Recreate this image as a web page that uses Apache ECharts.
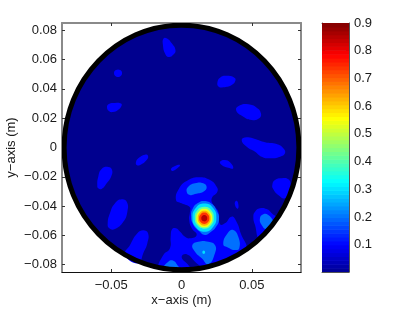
<!DOCTYPE html>
<html><head><meta charset="utf-8">
<style>html,body{margin:0;padding:0;background:#fff}#c{width:411px;height:310px}</style>
<script src="https://cdn.jsdelivr.net/npm/echarts@6/dist/echarts.min.js"></script>
</head><body><div id="c"></div>
<script>
const xTicks = [-0.05, 0, 0.05];
const yTicks = [-0.08, -0.06, -0.04, -0.02, 0, 0.02, 0.04, 0.06, 0.08];
const barTicks = [0.1, 0.2, 0.3, 0.4, 0.5, 0.6, 0.7, 0.8, 0.9];
const axisHalfRange = 0.085;
const barMin = 0.002, barMax = 0.9, barSteps = 64;
const xTitle = 'x\u2212axis (m)', yTitle = 'y\u2212axis (m)';
const jetStops = [[0,0,0,143],[0.111,0,0,255],[0.365,0,255,255],[0.619,255,255,0],[0.873,255,0,0],[1,128,0,0]];
const discRadiusMm = 83.5;

// contour regions: level, then closed outline in millimetres (x, y pairs)
const contourLevels = [
 0.1,0.1,0.1,0.1,0.1,0.1,0.1,0.1,0.1,0.1,0.1,0.1,0.1,0.1,0.1,0.1,
 0.001,
 0.2,0.2,0.2,0.2,0.2,0.3,
 0.2,0.3,0.42,0.54,0.63,0.74,0.85
];
const contourOutlines = [
 [[-12.8,74.4],[-10.3,74.4],[-7.1,71.3],[-4.3,66.6],[-5.7,63.5],[-9.2,61.8],[-11.7,64.2],[-13.2,70]],
 [[-48,50.9],[-46.6,52.9],[-43.7,52.9],[-42.3,50.9],[-43.7,48.5],[-46.6,48.5]],
 [[-53,27.7],[-51.6,29.7],[-47.3,30.4],[-43,30],[-42.7,28.3],[-45.2,25.6],[-48.8,24.2],[-51.6,24.9]],
 [[25.5,44.2],[27.4,47.7],[32.1,49],[37.6,47.7],[38.3,45.6],[35.7,42.7],[29.7,41.1],[26.5,41.5]],
 [[38.8,25.6],[41.6,28.8],[47.5,29.5],[53.5,27.2],[56.5,23.3],[55.3,19.9],[49.9,18.8],[44,21]],
 [[42.8,5.1],[46.4,7],[52.3,5.8],[59.4,3.6],[67.7,2.4],[72.4,-0.5],[73.6,-4],[70.1,-6.3],[62.9,-7.4],[57,-6.3],[52.3,-2.9],[46.4,0.5]],
 [[64.6,-25.6],[66.5,-22.2],[71.3,-21],[76,-21.7],[77.7,-25.6],[77.2,-30.2],[73.6,-34.7],[68.8,-32.4],[65.3,-28.5]],
 [[51.1,-47.2],[52.3,-43.8],[55.8,-41.5],[60.6,-42],[64.2,-44.9],[67.7,-49],[55.8,-62],[52.3,-52.9]],
 [[38.1,-37.2],[39.5,-36.5],[40.5,-39.3],[40.2,-41.6],[39.1,-41.3],[38.1,-39.3]],
 [[27.4,-9.7],[30.9,-8.5],[34.5,-10.1],[36.8,-14.2],[33.3,-13.8],[28.6,-11.9]],
 [[-7.5,-14.7],[-4.6,-12.6],[-1.1,-11.9],[-3,-14.2],[-6.3,-16]],
 [[-32.4,-10.1],[-30.7,-7.4],[-26,-4.9],[-23.8,-5.8],[-24.8,-8.5],[-29.5,-11.9],[-31.9,-11.9]],
 [[-59.9,-25.6],[-59.2,-19.9],[-56.8,-14.7],[-52.1,-13.3],[-49.4,-15.4],[-50.1,-19.9],[-53.2,-24.4],[-56.8,-28.3],[-59.2,-27.9]],
 [[-52.5,-51.8],[-50.9,-44.9],[-47.3,-38.1],[-42.5,-35.4],[-38.8,-37.4],[-38.5,-43.8],[-41.4,-50.7],[-47.3,-55.6],[-51.4,-55.2]],
 [[-40.2,-73.4],[-36.6,-66.6],[-31.4,-58.6],[-27.2,-56.5],[-23.8,-58.6],[-24.3,-65.4],[-27.2,-72.2],[-30.7,-79.1]],
 [[-16.5,-82.5],[-12.9,-73.4],[-8.2,-68.8],[-7.7,-60.9],[-6.6,-55.6],[-4,-55.2],[-1,-57.5],[2.5,-60.9],[6,-62],[10.8,-59.7],[7.3,-55.2],[5.5,-49.5],[6,-43.8],[6,-40.8],[0.1,-38.1],[-3.9,-35.8],[-1.6,-27.9],[3.7,-22.9],[11.9,-20.3],[20.3,-22.2],[25,-26.8],[25.5,-30.2],[21.5,-34.7],[22.6,-39.3],[26.2,-43.8],[27.4,-52.4],[30.9,-51.8],[35.7,-47.2],[39.3,-51.1],[42.1,-58.6],[45.9,-70],[34.5,-75.4],[23.8,-78.9],[13.2,-82.3],[-1.1,-83],[-11.7,-83]],
 [[0.1,-74.6],[3.7,-72.9],[9.6,-78],[14.4,-83],[8.4,-83],[3.7,-79.1]],
 [[55.8,-48.3],[58.2,-45.6],[61.7,-46.1],[65.3,-50],[66.5,-51.8],[60.6,-55.6],[57,-52.9]],
 [[3.7,-30.2],[4.8,-26.8],[9.6,-24.4],[15.5,-24.4],[17.9,-27.2],[15.5,-30.2],[9.6,-31.7],[6,-32.4]],
 [[7.7,-66.6],[11.9,-64.3],[19.1,-64.3],[23.8,-66.6],[23.8,-72.2],[19.1,-79.7],[14.4,-75.6],[9.6,-71.1]],
 [[29.7,-65.9],[33.3,-57.9],[36.8,-56.3],[40.4,-60.9],[41.1,-68.8],[38.1,-70],[33.3,-68.4]],
 [[-12.9,-83],[-9.4,-78],[-5.8,-77.3],[-3,-80.2],[-1.6,-83]],
 [[14.8,-71.5],[15.8,-70.3],[16.8,-71.5],[15.8,-72.7]],
 [[16,-36.5],[21.7,-38.6],[25.2,-43.4],[26.7,-48.8],[24.5,-54.3],[20.3,-58],[16.7,-59.7],[12.4,-57],[8.5,-52.9],[6.8,-46.8],[8.2,-41.3],[11.7,-37.9]],
 [[16.3,-38.3],[22.3,-41.1],[24.8,-47.8],[22.3,-54.5],[16.5,-57.6],[10.3,-54.5],[7.8,-47.8],[10.3,-41.1]],
 [[16.2,-40.5],[21,-42.7],[23,-48],[21,-53.3],[16.4,-55.5],[11.4,-53.3],[9.4,-48],[11.4,-42.7]],
 [[16.2,-41.9],[20.2,-43.8],[21.9,-48.2],[20.2,-52.6],[16.3,-54.5],[12.2,-52.6],[10.5,-48.2],[12.2,-43.8]],
 [[16.2,-43.2],[19.4,-44.7],[20.8,-48.3],[19.4,-51.9],[16.2,-53.4],[13,-51.9],[11.6,-48.3],[13,-44.7]],
 [[16.2,-44.4],[18.7,-45.5],[19.8,-48.3],[18.7,-51.1],[16.2,-52.2],[13.7,-51.1],[12.6,-48.3],[13.7,-45.5]],
 [[16.2,-46.1],[17.7,-46.7],[18.3,-48.3],[17.7,-49.9],[16.2,-50.5],[14.7,-49.9],[14.1,-48.3],[14.7,-46.7]]
];

function jet(v){
  const t = Math.max(0, Math.min(1, v / barMax));
  for (let i = 1; i < jetStops.length; i++) {
    const a = jetStops[i-1], b = jetStops[i];
    if (t <= b[0]) {
      const f = (t - a[0]) / (b[0] - a[0]);
      return 'rgb(' + [1,2,3].map(k => Math.round(a[k] + (b[k]-a[k]) * f)).join(',') + ')';
    }
  }
  return 'rgb(128,0,0)';
}

const font = {fontFamily:'Liberation Sans', fontSize:13, color:'#1a1a1a'};
const fmt = v => v === 0 ? '0' : String(v).replace('-', '\u2212');
const grey = {color:'#8a8a8a', width:2};
const tick = {show:true, inside:true, length:3, lineStyle:{color:'#333', width:1}};

const chart = echarts.init(document.getElementById('c'), null, {renderer:'canvas'});
chart.setOption({
  animation:false,
  backgroundColor:'#fff',
  grid:[
    {left:62, top:23, width:239, height:249, containLabel:false, outerBoundsMode:'none'},
    {left:322, top:23, width:27, height:249, containLabel:false, outerBoundsMode:'none'}
  ],
  xAxis:[
    {type:'value', gridIndex:0, min:-axisHalfRange, max:axisHalfRange, position:'bottom', splitLine:{show:false},
     axisLine:{show:true, onZero:false, lineStyle:{color:'#111', width:1}},
     axisTick:Object.assign({customValues:xTicks}, tick),
     axisLabel:Object.assign({customValues:xTicks, formatter:fmt, margin:7}, font),
     name:xTitle, nameLocation:'middle', nameGap:22, nameMoveOverlap:false, nameTextStyle:font},
    {type:'value', gridIndex:0, min:-axisHalfRange, max:axisHalfRange, position:'top', splitLine:{show:false},
     axisLine:{show:true, onZero:false, lineStyle:grey},
     axisTick:Object.assign({customValues:xTicks}, tick),
     axisLabel:{show:false}},
    {type:'value', gridIndex:1, min:0, max:1, position:'bottom', splitLine:{show:false},
     axisLine:{show:true, onZero:false, lineStyle:{color:'#555', width:1}}, axisTick:{show:false}, axisLabel:{show:false}},
    {type:'value', gridIndex:1, min:0, max:1, position:'top', splitLine:{show:false},
     axisLine:{show:true, onZero:false, lineStyle:{color:'#555', width:1}}, axisTick:{show:false}, axisLabel:{show:false}}
  ],
  yAxis:[
    {type:'value', gridIndex:0, min:-axisHalfRange, max:axisHalfRange, position:'left', splitLine:{show:false},
     axisLine:{show:true, onZero:false, lineStyle:grey},
     axisTick:Object.assign({customValues:yTicks}, tick),
     axisLabel:Object.assign({customValues:yTicks, formatter:fmt, margin:5}, font),
     name:yTitle, nameLocation:'middle', nameGap:44, nameMoveOverlap:false, nameTextStyle:font},
    {type:'value', gridIndex:0, min:-axisHalfRange, max:axisHalfRange, position:'right', splitLine:{show:false},
     axisLine:{show:true, onZero:false, lineStyle:grey},
     axisTick:Object.assign({customValues:yTicks}, tick),
     axisLabel:{show:false}},
    {type:'value', gridIndex:1, min:barMin, max:barMax, position:'right', splitLine:{show:false},
     axisLine:{show:true, onZero:false, lineStyle:{color:'#555', width:1}},
     axisTick:Object.assign({customValues:barTicks}, tick),
     axisLabel:Object.assign({customValues:barTicks, formatter:v => v.toFixed(1), margin:5}, font)},
    {type:'value', gridIndex:1, min:barMin, max:barMax, position:'left', splitLine:{show:false},
     axisLine:{show:true, onZero:false, lineStyle:{color:'#555', width:1}},
     axisTick:Object.assign({customValues:barTicks}, tick),
     axisLabel:{show:false}}
  ],
  series:[
    {
      type:'custom', xAxisIndex:0, yAxisIndex:0, clip:true, z:1, silent:true,
      data:[[0,0]],
      renderItem:(p, api) => {
        const c = api.coord([0,0]), r = discRadiusMm/1000;
        return {type:'ellipse', shape:{cx:c[0], cy:c[1], rx:api.size([r,0])[0], ry:api.size([0,r])[1]},
                style:{fill:jet(0), stroke:null}};
      }
    },
    {
      type:'custom', xAxisIndex:0, yAxisIndex:0, clip:true, z:2, silent:true,
      data:contourOutlines.map((o,i) => [o[0][0]/1000, o[0][1]/1000, i]),
      renderItem:(p, api) => {
        const i = api.value(2);
        return {type:'polygon',
          shape:{points:contourOutlines[i].map(q => api.coord([q[0]/1000, q[1]/1000])), smooth:0.5},
          style:{fill:jet(contourLevels[i]), stroke:null}};
      }
    },
    {
      type:'custom', xAxisIndex:0, yAxisIndex:0, clip:true, z:3, silent:true,
      data:[[0,0]],
      renderItem:(p, api) => {
        const c = api.coord([0,0]), r = discRadiusMm/1000;
        return {type:'ellipse', shape:{cx:c[0], cy:c[1], rx:api.size([r,0])[0], ry:api.size([0,r])[1]},
                style:{fill:null, stroke:'#000', lineWidth:5}};
      }
    },
    {
      type:'custom', xAxisIndex:2, yAxisIndex:2, clip:true, z:2, silent:true,
      data:Array.from({length:barSteps}, (_,i) => [0, barMin + (barMax-barMin)*i/barSteps, barMin + (barMax-barMin)*(i+1)/barSteps]),
      renderItem:(p, api) => {
        const lo = api.value(1), hi = api.value(2);
        const a = api.coord([0,lo]), b = api.coord([1,hi]);
        return {type:'rect', shape:{x:a[0], y:b[1], width:b[0]-a[0], height:a[1]-b[1]+0.6},
                style:{fill:jet((lo+hi)/2), stroke:null}};
      }
    }
  ]
});
</script></body></html>
